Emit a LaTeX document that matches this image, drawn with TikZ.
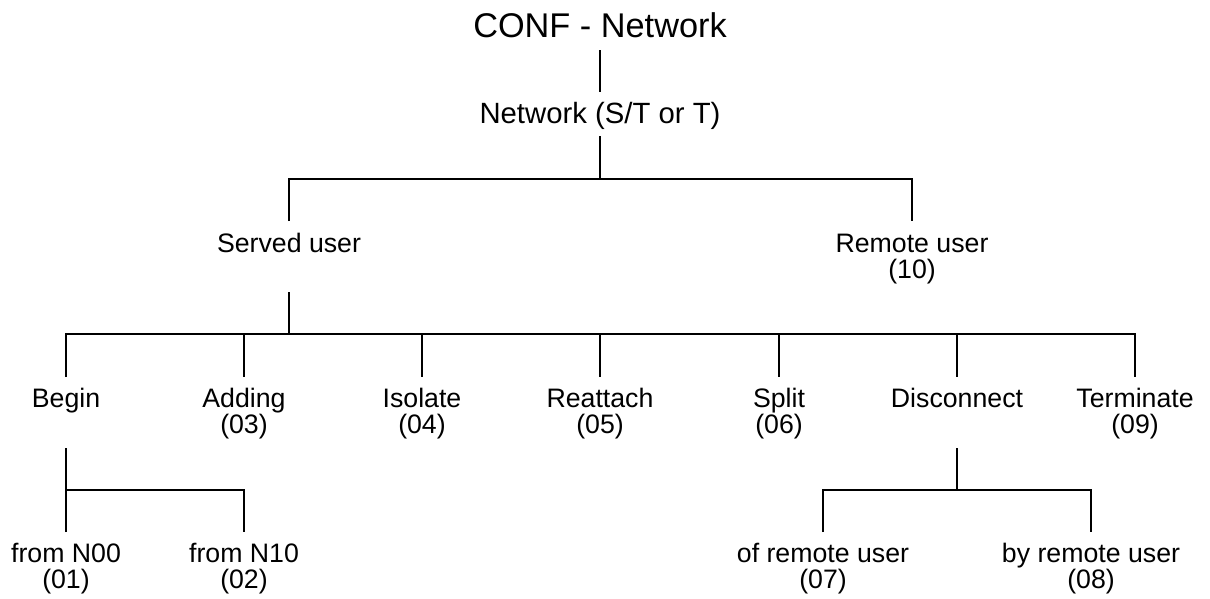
\documentclass[tikz,border=0pt]{standalone}
\usepackage{fontspec}
\setmainfont{Liberation Sans}
\begin{document}
\begin{tikzpicture}[x=1pt,y=-1pt,
  lbl/.style={inner sep=0pt,anchor=base,align=center,font=\fontsize{26.7}{26}\selectfont},
  lbltwo/.style={lbl},
  ttl/.style={inner sep=0pt,anchor=base,font=\fontsize{34.3}{34}\selectfont},
  sub/.style={inner sep=0pt,anchor=base,font=\fontsize{29.3}{29}\selectfont},
  conn/.style={line width=1.8pt,line cap=butt}]
\useasboundingbox (0,0) rectangle (1210,598);
% nodes (anchor base = baseline of last line)
\node[ttl] (title) at (600,37.5) {CONF - Network};
\node[sub] (net) at (600,123) {Network (S/T or T)};
\node[lbl] (served) at (289,252) {Served user};
\node[lbl] (remote) at (912,278) {Remote user\\(10)};
\node[lbl] (begin) at (66,407) {Begin};
\node[lbl] (adding) at (244,433) {Adding\\(03)};
\node[lbl] (isolate) at (422,433) {Isolate\\(04)};
\node[lbl] (reattach) at (600,433) {Reattach\\(05)};
\node[lbl] (split) at (779,433) {Split\\(06)};
\node[lbl] (disc) at (957,407) {Disconnect};
\node[lbl] (term) at (1135,433) {Terminate\\(09)};
\node[lbl] (n00) at (66,588) {from N00\\(01)};
\node[lbl] (n10) at (244,588) {from N10\\(02)};
\node[lbl] (ofr) at (823,588) {of remote user\\(07)};
\node[lbl] (byr) at (1091,588) {by remote user\\(08)};
% connectors
\draw[conn] (title |- {0,50}) -- (net |- {0,92});
\draw[conn] (net |- {0,136}) -- (net |- {0,179});
\draw[conn] (served |- {0,221}) -- (served |- {0,179}) -- (remote |- {0,179}) -- (remote |- {0,221});
\draw[conn] (served |- {0,292}) -- (served |- {0,334});
\draw[conn] (begin |- {0,377}) -- (begin |- {0,334}) -- (term |- {0,334}) -- (term |- {0,377});
\draw[conn] (adding |- {0,334}) -- (adding |- {0,377});
\draw[conn] (isolate |- {0,334}) -- (isolate |- {0,377});
\draw[conn] (reattach |- {0,334}) -- (reattach |- {0,377});
\draw[conn] (split |- {0,334}) -- (split |- {0,377});
\draw[conn] (disc |- {0,334}) -- (disc |- {0,377});
\draw[conn] (begin |- {0,448}) -- (begin |- {0,490});
\draw[conn] (n00 |- {0,532}) -- (n00 |- {0,490}) -- (n10 |- {0,490}) -- (n10 |- {0,532});
\draw[conn] (disc |- {0,448}) -- (disc |- {0,490});
\draw[conn] (ofr |- {0,532}) -- (ofr |- {0,490}) -- (byr |- {0,490}) -- (byr |- {0,532});
\end{tikzpicture}
\end{document}
